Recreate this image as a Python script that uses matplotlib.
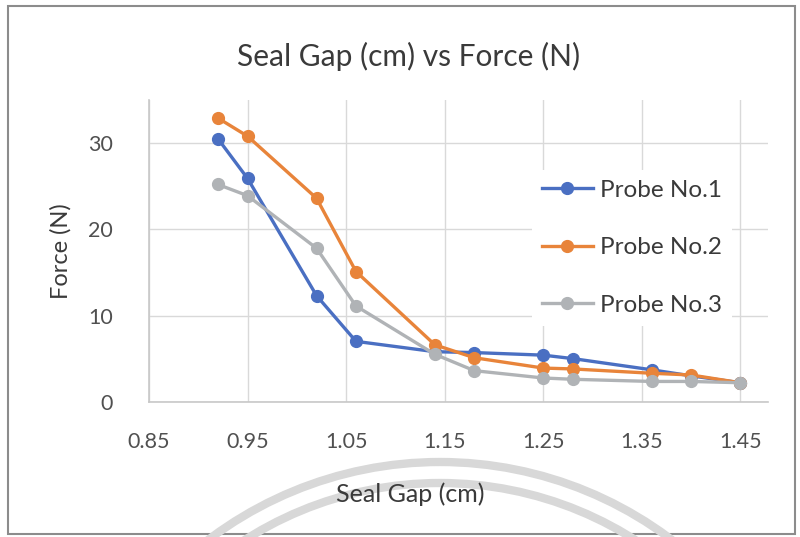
import matplotlib
matplotlib.use("Agg")
import matplotlib.pyplot as plt
from matplotlib.patches import Arc, Rectangle

# Seal gap (cm) and measured force (N) for three probes
gap = [0.92, 0.95, 1.02, 1.06, 1.14, 1.18, 1.25, 1.28, 1.36, 1.40, 1.45]
probe1 = [30.5, 25.9, 12.3, 7.0, 5.8, 5.7, 5.4, 5.0, 3.7, 3.0, 2.2]
probe2 = [32.9, 30.8, 23.6, 15.1, 6.6, 5.1, 3.9, 3.8, 3.3, 3.1, 2.2]
probe3 = [25.2, 23.9, 17.8, 11.1, 5.5, 3.6, 2.75, 2.6, 2.35, 2.35, 2.2]

series_names = ["Probe No.1", "Probe No.2", "Probe No.3"]
series_colors = ["#4a6fc2", "#e8843a", "#b0b3b6"]
x_ticks = [0.85, 0.95, 1.05, 1.15, 1.25, 1.35, 1.45]
y_ticks = [0, 10, 20, 30]

plt.rcParams["font.family"] = ["Lato", "DejaVu Sans"]
text_col = "#3a3a3a"
tick_col = "#505050"

W, H = 800, 537
fig = plt.figure(figsize=(W / 100, H / 100), dpi=100)

# background layer in pixel coordinates: page frame and faint stamp arcs
bg = fig.add_axes([0, 0, 1, 1], zorder=0)
bg.set_xlim(0, W)
bg.set_ylim(H, 0)
bg.axis("off")
bg.add_patch(Rectangle((8, 6), 787, 528, fill=False, edgecolor="#8c8c8c", linewidth=1.5))
for r in (384, 363):
    bg.add_patch(Arc((440, 846), 2 * r, 2 * r, theta1=180, theta2=360,
                     color="#d8d8d8", linewidth=6))

ax = fig.add_axes([149 / W, 1 - 401.7 / H, (768 - 149) / W, (401.7 - 100) / H], zorder=1)
ax.set_facecolor("none")

for ys, name, col in zip([probe1, probe2, probe3], series_names, series_colors):
    ax.plot(gap, ys, color=col, linewidth=2.4, marker="o", markersize=8.5,
            markeredgecolor=col, label=name)

ax.set_xlim(0.85, 1.478)
ax.set_ylim(0, 35)
ax.set_xticks(x_ticks)
ax.set_xticklabels([f"{v:.2f}" for v in x_ticks])
ax.set_yticks(y_ticks)
ax.grid(True, color="#d9d9d9", linewidth=1)
ax.set_axisbelow(True)
for side in ("top", "right"):
    ax.spines[side].set_visible(False)
for side in ("left", "bottom"):
    ax.spines[side].set_color("#c8c8c8")
    ax.spines[side].set_linewidth(1.2)
ax.tick_params(length=0, labelsize=15.5, colors=tick_col)
ax.tick_params(axis="y", pad=26)
ax.tick_params(axis="x", pad=22)

ax.set_ylabel("Force (N)", fontsize=17, color=text_col, labelpad=12)
# axis title sits centred on the chart area rather than the plot area
fig.text(410 / W, 1 - 494 / H, "Seal Gap (cm)", fontsize=18, color=text_col,
         ha="center", va="center")
fig.text(0.511, 1 - 56 / H, "Seal Gap (cm) vs Force (N)", fontsize=21.5,
         color=text_col, ha="center", va="center")

leg = ax.legend(loc="upper left", bbox_to_anchor=(520 / W, 1 - 158 / H),
                bbox_transform=fig.transFigure, frameon=True, fancybox=False,
                edgecolor="none", facecolor="white", framealpha=1,
                fontsize=17.5, handlelength=2.1, handletextpad=0.3,
                labelspacing=1.5, borderpad=0.4)
for t in leg.get_texts():
    t.set_color(text_col)

fig.savefig("out.png", dpi=100)
